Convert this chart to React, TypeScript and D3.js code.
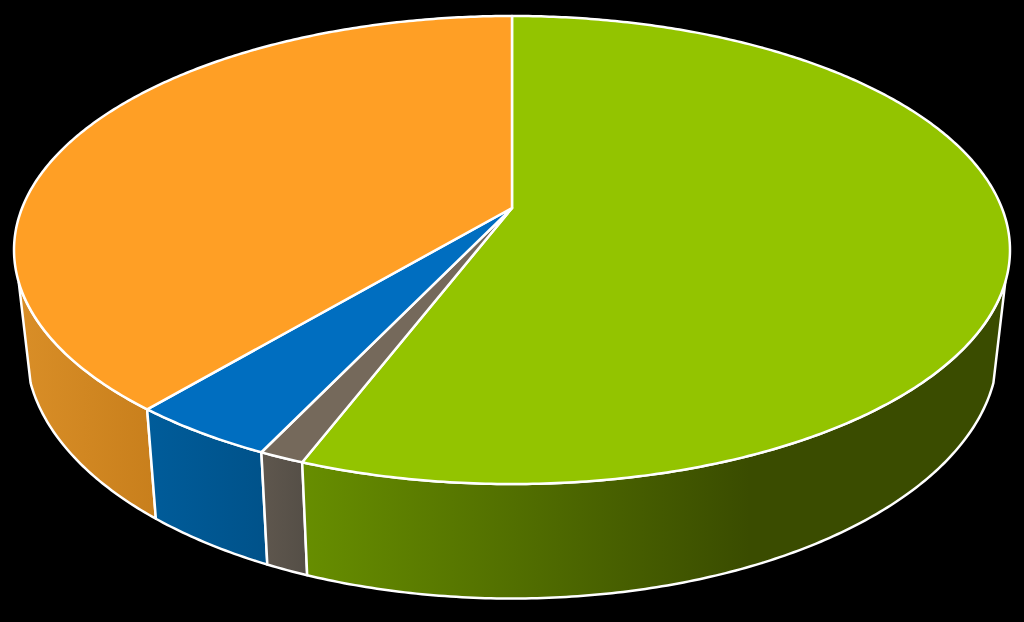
import React from "react";
import * as d3 from "d3";

const categories = ["Green", "Grey", "Blue", "Orange"];
const seriesValues = [55.8, 1.25, 4.05, 38.9];
const topColors = ["#93c400", "#75695b", "#006ec0", "#ff9f25"];
const wallStops = [
  ["#678e00", "#3a4c00"],
  ["#5f574e", "#544e46"],
  ["#005c9a", "#00528a"],
  ["#d98e27", "#c87f1c"],
];
const wallStopEnd = [750, 0, 0, 0];

const W = 1024, H = 622;
const cx = 512;
const topFace = { y0: 208, A: 489.9, B: 226.5, k: 0.1795 };
const botFace = { y0: 304, A: 478, B: 241.5, k: 0.18 };
const wallFrom = (108 * Math.PI) / 180;
const wallTo = (252 * Math.PI) / 180;

type Face = typeof topFace;
const project = (f: Face, a: number): [number, number] => {
  const u = Math.sin(a), v = -Math.cos(a);
  const d = 1 - f.k * v;
  return [cx + (f.A * u) / d, f.y0 + (f.B * v) / d];
};
const samples = (a0: number, a1: number) => {
  const n = Math.max(2, Math.ceil(Math.abs(a1 - a0) / 0.01));
  return d3.range(n + 1).map((i) => a0 + ((a1 - a0) * i) / n);
};
const line = d3.line<[number, number]>().x((d) => d[0]).y((d) => d[1]);

export default function App() {
  const arcs = d3.pie<number>().sort(null).startAngle(0).endAngle(2 * Math.PI)(seriesValues);
  const slices = arcs.map((arc, i) => {
    const pts = samples(arc.startAngle, arc.endAngle).map((a) => project(topFace, a));
    const top = line([[cx, topFace.y0], ...pts])! + "Z";
    const a0 = Math.max(arc.startAngle, wallFrom);
    const a1 = Math.min(arc.endAngle, wallTo);
    const as = a1 > a0 ? samples(a0, a1) : [];
    const tops = as.map((a) => project(topFace, a));
    const bots = as.map((a) => project(botFace, a)).reverse();
    const wall = as.length ? line([...tops, ...bots])! + "Z" : null;
    const xs = [...tops, ...bots].map((p) => p[0]);
    const x0 = d3.min(xs) ?? 0;
    const x1 = d3.max(xs) ?? 1;
    return { i, top, wall, x0, x1 };
  });
  const order = [3, 2, 1, 0];
  return (
    <svg width={W} height={H} style={{ position: "fixed", left: 0, top: 0, background: "#000" }}>
      <rect width={W} height={H} fill="#000" />
      <defs>
        {slices.map((s) => (
          <linearGradient
            key={s.i}
            id={`wall${s.i}`}
            gradientUnits="userSpaceOnUse"
            x1={s.x0}
            x2={wallStopEnd[s.i] || s.x1}
            y1={0}
            y2={0}
          >
            <stop offset="0" stopColor={wallStops[s.i][0]} />
            <stop offset="1" stopColor={wallStops[s.i][1]} />
          </linearGradient>
        ))}
      </defs>
      <g stroke="#fff" strokeWidth={2.5} strokeLinejoin="round">
        {order.map((i) =>
          slices[i].wall ? <path key={i} d={slices[i].wall!} fill={`url(#wall${i})`} /> : null
        )}
        {slices.map((s) => (
          <path key={s.i} d={s.top} fill={topColors[s.i]}>
            <title>{categories[s.i]}</title>
          </path>
        ))}
      </g>
    </svg>
  );
}
